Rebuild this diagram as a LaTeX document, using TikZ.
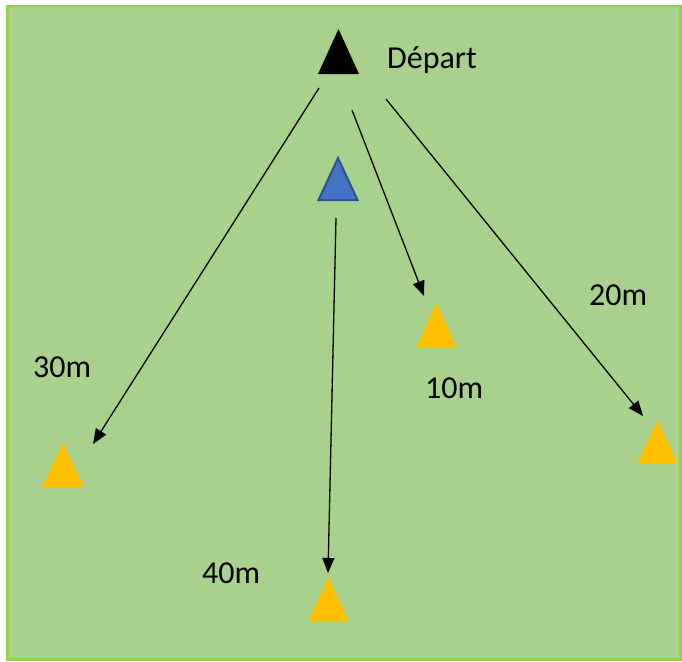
\documentclass[tikz,border=0pt]{standalone}
\usepackage{fontspec}
\setmainfont{Carlito}
\usetikzlibrary{arrows.meta}
\definecolor{field}{HTML}{A9D18E}
\definecolor{fieldedge}{HTML}{92D050}
\definecolor{conecol}{HTML}{FFC000}
\definecolor{bluefill}{HTML}{4472C4}
\definecolor{blueedge}{HTML}{2F528F}
\tikzset{
  dist/.style={font=\fontsize{32}{38}\selectfont, anchor=base west, inner sep=0pt, text=black},
  run/.style={line width=1.3pt, -{Triangle[length=15pt,width=12pt]}},
  cone/.style={fill=conecol, draw=none},
}
% triangle marker: #1 = apex x, #2 = apex y, #3 = half base width, #4 = height, #5 = style
\newcommand{\marker}[5]{\path[#5] (#1,#2) -- ++(#3,#4) -- ++(-2*#3,0) -- cycle;}
\begin{document}
\begin{tikzpicture}[x=1pt,y=-1pt]
\useasboundingbox (0,0) rectangle (682,661);
\fill[white] (0,0) rectangle (682,661);
% playing field
\draw[fill=field, draw=fieldedge, line width=2.5pt] (7.5,6) rectangle (680.5,659.5);

% start marker and blue cone
\marker{338.5}{29}{20.5}{45}{fill=black}
\marker{338}{158}{19.5}{42}{fill=bluefill, draw=blueedge, line width=2pt}

% yellow cones
\marker{436.5}{303}{20.5}{45}{cone}
\marker{63}{443}{21}{44}{cone}
\marker{657.5}{420}{20.5}{44}{cone}
\marker{328.5}{577}{20.5}{45}{cone}

% arrow end points
\coordinate (s30) at (319,88);
\coordinate (e30) at (93,444);
\coordinate (s10) at (352,110);
\coordinate (e10) at (424,296);
\coordinate (s20) at (386,99);
\coordinate (e20) at (643,416);
\coordinate (s40) at (336,218);
\coordinate (e40) at (328,573);

\draw[run] (s30) -- (e30);
\draw[run] (s10) -- (e10);
\draw[run] (s20) -- (e20);
\draw[run] (s40) -- (e40);

% labels
\node[dist] (dep) at (387,69) {Départ};
\node[dist] (l10) at (425,398) {10m};
\node[dist] (l20) at (589,305) {20m};
\node[dist] (l30) at (33,377) {30m};
\node[dist] (l40) at (202,583) {40m};
\end{tikzpicture}
\end{document}
